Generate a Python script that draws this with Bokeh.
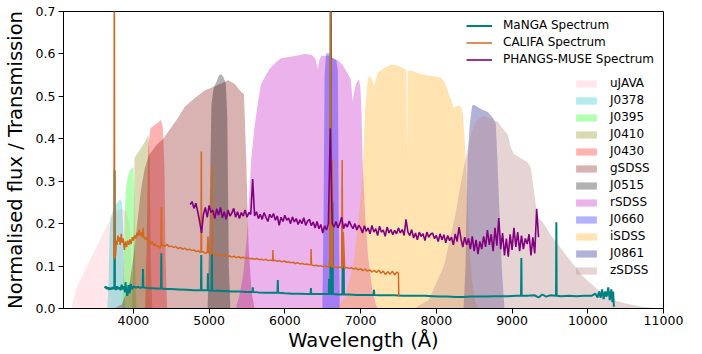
import numpy as np
from bokeh.plotting import figure
from bokeh.models import Range1d, FixedTicker, PrintfTickFormatter, Legend, LegendItem
from bokeh.embed import file_html
from bokeh.resources import INLINE

# ---------------- axis ticks ----------------
X_TICKS = [4000, 5000, 6000, 7000, 8000, 9000, 10000, 11000]
Y_TICKS = [0.0, 0.1, 0.2, 0.3, 0.4, 0.5, 0.6, 0.7]

# ---------------- filter transmission curves ----------------
UJAVA_W = [3180, 3210, 3250, 3300, 3400, 3500, 3600, 3700, 3750, 3800, 3850, 3900, 3950, 3980, 4010]
UJAVA_T = [0.0, 0.02, 0.05, 0.068, 0.104, 0.14, 0.176, 0.212, 0.225, 0.232, 0.235, 0.23, 0.2, 0.1, 0.0]

J0378_W = [3655, 3670, 3685, 3700, 3730, 3770, 3800, 3830, 3850, 3865, 3880, 3895]
J0378_T = [0.0, 0.05, 0.17, 0.215, 0.232, 0.245, 0.252, 0.258, 0.25, 0.19, 0.06, 0.0]

J0395_W = [3855, 3870, 3885, 3900, 3925, 3950, 3975, 4000, 4012, 4025, 4040]
J0395_T = [0.0, 0.08, 0.22, 0.28, 0.31, 0.325, 0.33, 0.333, 0.27, 0.08, 0.0]

J0410_W = [3985, 4000, 4015, 4050, 4100, 4150, 4200, 4215, 4230, 4250]
J0410_T = [0.0, 0.15, 0.355, 0.365, 0.378, 0.392, 0.41, 0.35, 0.1, 0.0]

J0430_W = [4155, 4175, 4195, 4225, 4260, 4300, 4340, 4365, 4390, 4410, 4425, 4445]
J0430_T = [0.0, 0.15, 0.38, 0.425, 0.43, 0.435, 0.44, 0.445, 0.425, 0.33, 0.12, 0.0]

GSDSS_W = [3750, 3850, 3950, 4000, 4050, 4100, 4150, 4200, 4300, 4395, 4457, 4593, 4676,
           4804, 4940, 5028, 5150, 5252, 5335, 5424, 5460, 5490, 5520, 5560, 5600]
GSDSS_T = [0.0, 0.01, 0.06, 0.12, 0.2, 0.28, 0.33, 0.36, 0.385, 0.4, 0.416, 0.45, 0.475,
           0.495, 0.514, 0.52, 0.53, 0.538, 0.53, 0.51, 0.505, 0.35, 0.15, 0.04, 0.0]

J0515_W = [4980, 5005, 5030, 5060, 5100, 5130, 5160, 5190, 5220, 5240, 5260, 5280]
J0515_T = [0.0, 0.2, 0.48, 0.52, 0.535, 0.55, 0.552, 0.545, 0.53, 0.45, 0.1, 0.0]

RSDSS_W = [5350, 5400, 5450, 5500, 5555, 5599, 5648, 5687, 5750, 5800,
           5880, 5950, 6050, 6150, 6258, 6350, 6400, 6434, 6455, 6480,
           6570, 6640, 6698, 6760, 6830, 6870, 6896, 6915, 6940, 6980,
           6998, 7010, 7030, 7060, 7100, 7150, 7200, 7230]
RSDSS_T = [0.0, 0.03, 0.08, 0.17, 0.35, 0.428, 0.49, 0.53, 0.55, 0.565,
           0.58, 0.59, 0.593, 0.596, 0.6, 0.598, 0.59, 0.565, 0.585, 0.596,
           0.596, 0.59, 0.585, 0.575, 0.554, 0.54, 0.487, 0.51, 0.53, 0.54,
           0.52, 0.474, 0.33, 0.22, 0.12, 0.05, 0.01, 0.0]

J0660_W = [6495, 6510, 6525, 6544, 6570, 6600, 6630, 6680, 6700, 6712, 6725]
J0660_T = [0.0, 0.2, 0.55, 0.6, 0.603, 0.598, 0.59, 0.585, 0.56, 0.2, 0.0]

ISDSS_W = [6700, 6800, 6900, 6950, 7000, 7030, 7060, 7097, 7140, 7177,
           7200, 7230, 7300, 7400, 7500, 7572, 7605, 7614, 7623, 7664,
           7750, 7888, 8000, 8060, 8120, 8165, 8231, 8300, 8330, 8350,
           8375, 8400, 8430, 8470, 8510, 8550]
ISDSS_T = [0.0, 0.03, 0.1, 0.17, 0.26, 0.33, 0.47, 0.545, 0.545, 0.525,
           0.537, 0.557, 0.565, 0.575, 0.572, 0.565, 0.562, 0.356, 0.56, 0.561,
           0.555, 0.549, 0.547, 0.545, 0.53, 0.507, 0.474, 0.479, 0.475, 0.46,
           0.4, 0.3, 0.18, 0.07, 0.02, 0.0]

J0861_W = [8360, 8385, 8412, 8440, 8470, 8482, 8520, 8587, 8680, 8745, 8785, 8807, 8840, 8870, 8900]
J0861_T = [0.0, 0.1, 0.35, 0.43, 0.475, 0.48, 0.478, 0.47, 0.463, 0.45, 0.436, 0.35, 0.2, 0.08, 0.0]

ZSDSS_W = [7700, 7900, 8100, 8250, 8350, 8455, 8521, 8627, 8680, 8811,
           8851, 8943, 8983, 9022, 9088, 9200, 9246, 9286, 9338, 9404,
           9510, 9620, 9734, 9850, 9945, 10130, 10300, 10500, 10700, 10950]
ZSDSS_T = [0.0, 0.02, 0.1, 0.22, 0.32, 0.41, 0.44, 0.455, 0.45, 0.44,
           0.43, 0.41, 0.38, 0.365, 0.357, 0.345, 0.333, 0.28, 0.215, 0.204,
           0.173, 0.148, 0.121, 0.095, 0.074, 0.044, 0.022, 0.012, 0.005, 0.0]

FILTER_NAMES = ["uJAVA", "J0378", "J0395", "J0410", "J0430", "gSDSS", "J0515",
                "rSDSS", "J0660", "iSDSS", "J0861", "zSDSS"]

# ---------------- spectra ----------------
MANGA_WAVE = [
    3620, 3635, 3650, 3665, 3680, 3695, 3710, 3725, 3740, 3748,
    3752, 3756, 3770, 3785, 3800, 3815, 3830, 3845, 3860, 3875,
    3890, 3896, 3905, 3920, 3935, 3950, 3965, 3980, 4000, 4030,
    4060, 4090, 4123, 4127, 4131, 4160, 4200, 4250, 4300, 4365,
    4369, 4373, 4420, 4500, 4600, 4700, 4800, 4892, 4896, 4900,
    4950, 4980, 4984, 4988, 5032, 5036, 5040, 5100, 5200, 5300,
    5400, 5500, 5573, 5577, 5581, 5650, 5750, 5850, 5903, 5907,
    5911, 6000, 6100, 6200, 6300, 6340, 6344, 6348, 6450, 6560,
    6580, 6584, 6588, 6602, 6607, 6612, 6626, 6630, 6634, 6700,
    6760, 6764, 6768, 6775, 6778, 6781, 6850, 6950, 7050, 7173,
    7177, 7181, 7250, 7350, 7450, 7550, 7650, 7750, 7850, 7950,
    8050, 8150, 8250, 8350, 8450, 8550, 8650, 8750, 8850, 8950,
    9050, 9119, 9123, 9127, 9200, 9300, 9350, 9400, 9450, 9500,
    9581, 9585, 9589, 9650, 9750, 9850, 9950, 10050, 10100, 10130,
    10150, 10170, 10190, 10210, 10230, 10250, 10270, 10290, 10310, 10325,
    10335, 10345]
MANGA_FLUX = [
    0.048, 0.052, 0.046, 0.050, 0.044, 0.049, 0.045, 0.050, 0.046, 0.050,
    0.326, 0.048, 0.044, 0.052, 0.046, 0.050, 0.043, 0.056, 0.045, 0.052,
    0.038, 0.062, 0.042, 0.030, 0.055, 0.036, 0.058, 0.045, 0.052, 0.049,
    0.051, 0.049, 0.050, 0.093, 0.050, 0.049, 0.048, 0.048, 0.047, 0.047,
    0.130, 0.047, 0.046, 0.046, 0.045, 0.044, 0.043, 0.043, 0.126, 0.043,
    0.043, 0.043, 0.083, 0.043, 0.042, 0.134, 0.042, 0.042, 0.041, 0.040,
    0.040, 0.039, 0.039, 0.050, 0.039, 0.038, 0.037, 0.037, 0.037, 0.067,
    0.037, 0.036, 0.035, 0.035, 0.034, 0.034, 0.048, 0.034, 0.034, 0.034,
    0.034, 0.070, 0.034, 0.034, 1.000, 0.034, 0.034, 0.250, 0.034, 0.033,
    0.033, 0.138, 0.033, 0.033, 0.100, 0.033, 0.033, 0.032, 0.032, 0.032,
    0.044, 0.032, 0.031, 0.031, 0.031, 0.030, 0.030, 0.030, 0.030, 0.029,
    0.028, 0.028, 0.027, 0.027, 0.028, 0.028, 0.028, 0.029, 0.029, 0.029,
    0.030, 0.030, 0.119, 0.030, 0.030, 0.031, 0.026, 0.033, 0.028, 0.031,
    0.030, 0.203, 0.030, 0.029, 0.030, 0.029, 0.030, 0.030, 0.035, 0.026,
    0.040, 0.025, 0.045, 0.022, 0.040, 0.028, 0.050, 0.020, 0.045, 0.015,
    0.040, 0.004]

CALIFA_WAVE = [
    3745, 3748, 3752, 3765, 3775, 3785, 3795, 3805, 3815, 3825,
    3840, 3850, 3865, 3880, 3895, 3910, 3925, 3940, 3955, 3970,
    3985, 4000, 4015, 4030, 4045, 4060, 4075, 4090, 4105, 4120,
    4127, 4135, 4150, 4170, 4190, 4210, 4230, 4250, 4270, 4290,
    4310, 4330, 4350, 4365, 4370, 4375, 4395, 4420, 4445, 4470,
    4500, 4530, 4560, 4590, 4620, 4650, 4680, 4710, 4740, 4770,
    4800, 4830, 4860, 4880, 4893, 4897, 4901, 4920, 4950, 4975,
    4985, 4995, 5020, 5033, 5037, 5041, 5060, 5090, 5120, 5150,
    5180, 5210, 5240, 5270, 5300, 5330, 5360, 5390, 5420, 5450,
    5480, 5510, 5540, 5570, 5600, 5630, 5660, 5690, 5720, 5750,
    5780, 5810, 5838, 5842, 5846, 5870, 5900, 5930, 5960, 5990,
    6020, 6050, 6080, 6110, 6140, 6170, 6200, 6230, 6260, 6290,
    6320, 6343, 6347, 6351, 6380, 6410, 6440, 6470, 6500, 6530,
    6560, 6585, 6590, 6596, 6604, 6610, 6620, 6626, 6632, 6660,
    6690, 6720, 6750, 6757, 6763, 6772, 6790, 6820, 6850, 6880,
    6910, 6940, 6970, 7000, 7030, 7060, 7090, 7120, 7150, 7180,
    7210, 7240, 7270, 7300, 7330, 7360, 7390, 7420, 7450, 7480,
    7500, 7505]
CALIFA_FLUX = [
    0.115, 1.000, 0.120, 0.125, 0.160, 0.150, 0.172, 0.158, 0.168, 0.150,
    0.176, 0.155, 0.165, 0.138, 0.158, 0.145, 0.160, 0.150, 0.163, 0.152,
    0.168, 0.160, 0.172, 0.165, 0.178, 0.170, 0.186, 0.172, 0.180, 0.168,
    0.190, 0.170, 0.163, 0.168, 0.158, 0.162, 0.152, 0.158, 0.148, 0.153,
    0.145, 0.148, 0.142, 0.149, 0.240, 0.147, 0.150, 0.147, 0.151, 0.146,
    0.147, 0.144, 0.146, 0.141, 0.144, 0.140, 0.142, 0.138, 0.140, 0.137,
    0.138, 0.134, 0.136, 0.132, 0.134, 0.370, 0.133, 0.134, 0.130, 0.132,
    0.170, 0.131, 0.129, 0.130, 0.338, 0.130, 0.128, 0.129, 0.126, 0.128,
    0.124, 0.126, 0.123, 0.124, 0.121, 0.123, 0.120, 0.122, 0.119, 0.121,
    0.118, 0.120, 0.117, 0.118, 0.116, 0.118, 0.115, 0.116, 0.114, 0.116,
    0.113, 0.114, 0.113, 0.138, 0.112, 0.114, 0.111, 0.113, 0.110, 0.112,
    0.109, 0.110, 0.108, 0.109, 0.106, 0.108, 0.105, 0.106, 0.104, 0.105,
    0.103, 0.104, 0.140, 0.103, 0.101, 0.102, 0.100, 0.101, 0.099, 0.100,
    0.098, 0.099, 0.110, 0.100, 1.000, 0.100, 0.098, 0.350, 0.098, 0.098,
    0.096, 0.098, 0.095, 0.350, 0.096, 0.180, 0.095, 0.097, 0.094, 0.096,
    0.093, 0.095, 0.091, 0.094, 0.089, 0.093, 0.088, 0.091, 0.086, 0.090,
    0.085, 0.090, 0.083, 0.088, 0.080, 0.087, 0.081, 0.088, 0.079, 0.086,
    0.083, 0.028]

# PHANGS-MUSE spectrum sampled every 25 A starting at 4750 A
PHANGS_START = 4750
PHANGS_STEP = 25
PHANGS_FLUX = [
    0.245, 0.252, 0.236, 0.248, 0.228, 0.205, 0.178, 0.222, 0.238, 0.215,
    0.243, 0.226, 0.232, 0.212, 0.235, 0.220, 0.238, 0.214, 0.228, 0.210,
    0.232, 0.218, 0.225, 0.236, 0.215, 0.228, 0.212, 0.226, 0.218, 0.232,
    0.215, 0.226, 0.222, 0.305, 0.218, 0.228, 0.212, 0.222, 0.210, 0.226,
    0.215, 0.205, 0.222, 0.214, 0.224, 0.208, 0.218, 0.196, 0.215, 0.205,
    0.220, 0.208, 0.213, 0.200, 0.216, 0.204, 0.212, 0.198, 0.209, 0.200,
    0.214, 0.196, 0.206, 0.210, 0.195, 0.204, 0.190, 0.205, 0.188, 0.198,
    0.178, 0.195, 0.185, 0.200, 0.425, 0.200, 0.192, 0.205, 0.190, 0.200,
    0.215, 0.188, 0.200, 0.192, 0.206, 0.196, 0.188, 0.200, 0.185, 0.196,
    0.190, 0.178, 0.195, 0.182, 0.190, 0.176, 0.196, 0.180, 0.188, 0.172,
    0.194, 0.180, 0.185, 0.170, 0.192, 0.178, 0.186, 0.174, 0.184, 0.176,
    0.190, 0.178, 0.186, 0.172, 0.210, 0.180, 0.172, 0.186, 0.166, 0.178,
    0.162, 0.180, 0.170, 0.176, 0.160, 0.180, 0.168, 0.175, 0.178, 0.165,
    0.172, 0.158, 0.176, 0.162, 0.174, 0.155, 0.172, 0.160, 0.168, 0.150,
    0.176, 0.158, 0.192, 0.165, 0.145, 0.168, 0.150, 0.165, 0.140, 0.170,
    0.135, 0.162, 0.128, 0.158, 0.140, 0.170, 0.145, 0.185, 0.150, 0.175,
    0.135, 0.190, 0.148, 0.213, 0.140, 0.178, 0.125, 0.165, 0.122, 0.175,
    0.138, 0.190, 0.145, 0.180, 0.135, 0.172, 0.140, 0.165, 0.152, 0.175,
    0.125, 0.168, 0.130, 0.235, 0.168]
PHANGS_WAVE = [PHANGS_START + PHANGS_STEP * i for i in range(len(PHANGS_FLUX))]

SPECTRUM_NAMES = ["MaNGA Spectrum", "CALIFA Spectrum", "PHANGS-MUSE Spectrum"]

# ---------------- figure ----------------
FONT = "DejaVu Sans"
p = figure(width=702, height=354, output_backend="svg", toolbar_location=None,
           x_range=Range1d(3077, 11000), y_range=Range1d(0, 0.7),
           min_border_left=62, min_border_right=39, min_border_top=11, min_border_bottom=46)
p.background_fill_color = "white"
p.border_fill_color = "white"
p.xgrid.visible = False
p.ygrid.visible = False
p.outline_line_color = "black"
p.outline_line_width = 1
p.outline_line_alpha = 1

filters = [
    (UJAVA_W, UJAVA_T, "pink", 0.4),
    (J0378_W, J0378_T, "#00bfbf", 0.3),
    (J0395_W, J0395_T, "lime", 0.3),
    (J0410_W, J0410_T, "olive", 0.3),
    (J0430_W, J0430_T, "red", 0.3),
    (GSDSS_W, GSDSS_T, "maroon", 0.3),
    (J0515_W, J0515_T, "black", 0.3),
    (RSDSS_W, RSDSS_T, "#bf00bf", 0.3),
    (J0660_W, J0660_T, "blue", 0.3),
    (ISDSS_W, ISDSS_T, "orange", 0.3),
    (J0861_W, J0861_T, "navy", 0.3),
    (ZSDSS_W, ZSDSS_T, "rosybrown", 0.38),
]
filter_items = []
for name, (w, t, c, a) in zip(FILTER_NAMES, filters):
    r = p.varea(x=w, y1=[0.0] * len(w), y2=t, fill_color=c, fill_alpha=a)
    filter_items.append(LegendItem(label=name, renderers=[r]))

spec = [
    (MANGA_WAVE, MANGA_FLUX, "teal", 2.0),
    (CALIFA_WAVE, CALIFA_FLUX, "chocolate", 1.5),
    (PHANGS_WAVE, PHANGS_FLUX, "purple", 1.6),
]
spec_items = []
for name, (w, f, c, lw) in zip(SPECTRUM_NAMES, spec):
    r = p.line(x=w, y=f, line_color=c, line_width=lw)
    spec_items.append(LegendItem(label=name, renderers=[r]))

# ---------------- axes ----------------
p.xaxis.ticker = FixedTicker(ticks=X_TICKS, minor_ticks=[])
p.yaxis.ticker = FixedTicker(ticks=Y_TICKS, minor_ticks=[])
p.yaxis.formatter = PrintfTickFormatter(format="%.1f")
for ax in (p.xaxis, p.yaxis):
    ax.axis_line_color = "black"
    ax.major_tick_line_color = "black"
    ax.major_tick_out = 5
    ax.major_tick_in = 0
    ax.minor_tick_out = 0
    ax.minor_tick_in = 0
    ax.major_label_text_font = FONT
    ax.major_label_text_font_size = "12.5px"
    ax.major_label_text_color = "black"
    ax.axis_label_text_font = FONT
    ax.axis_label_text_font_size = "19.5px"
    ax.axis_label_text_font_style = "normal"
    ax.axis_label_text_color = "black"
p.xaxis.major_label_standoff = 2
p.yaxis.major_label_standoff = 3
p.xaxis.axis_label = "Wavelength (Å)"
p.yaxis.axis_label = "Normalised flux / Transmission"
p.xaxis.axis_label_standoff = 1
p.yaxis.axis_label_standoff = 6

def style_legend(lg):
    lg.label_text_font = FONT
    lg.label_text_font_size = "12px"
    lg.label_text_color = "black"
    lg.padding = 0
    lg.margin = 0
    lg.border_line_alpha = 0
    lg.background_fill_alpha = 0
    lg.glyph_width = 26
    lg.label_standoff = 11
    lg.label_height = 13
    lg.spacing = 3

leg1 = Legend(items=spec_items, location=(403, 242))
style_legend(leg1)
leg1.glyph_height = 13
p.add_layout(leg1)

leg2 = Legend(items=filter_items, location=(510, 31))
style_legend(leg2)
leg2.glyph_height = 9
p.add_layout(leg2)

open("out.html", "w").write(file_html(p, INLINE))
